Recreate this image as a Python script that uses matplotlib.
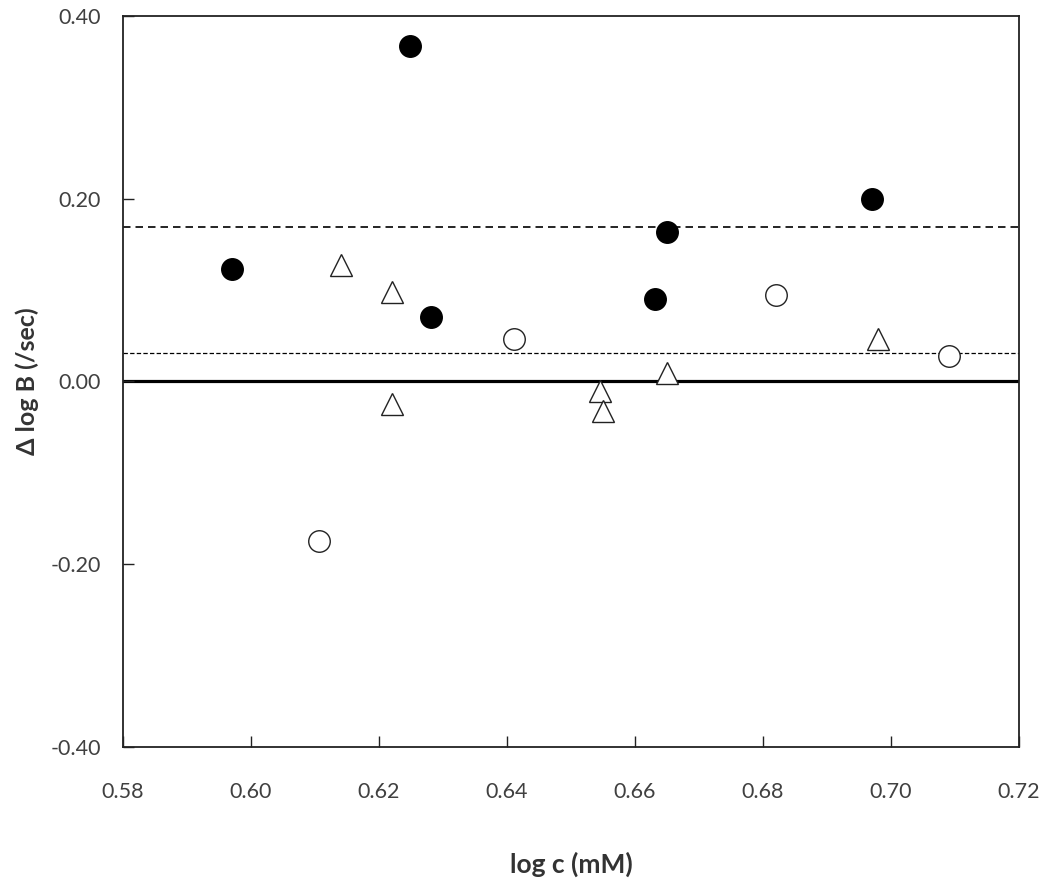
import matplotlib
matplotlib.use('Agg')
import matplotlib.pyplot as plt

plt.rcParams['font.family'] = ['Lato', 'DejaVu Sans']

# filled circles
filled_x = [0.597, 0.6248, 0.6281, 0.6631, 0.665, 0.697]
filled_y = [0.123, 0.367, 0.071, 0.090, 0.164, 0.200]

# open circles
open_x = [0.6106, 0.6411, 0.682, 0.7091]
open_y = [-0.175, 0.0465, 0.0947, 0.028]

# open triangles
tri_x = [0.614, 0.622, 0.622, 0.6545, 0.655, 0.665, 0.698]
tri_y = [0.128, 0.098, -0.025, -0.010, -0.032, 0.0096, 0.047]

# reference lines
upper_dash = 0.169
lower_dash = 0.0315

xticks = [0.58, 0.60, 0.62, 0.64, 0.66, 0.68, 0.70, 0.72]
yticks = [-0.40, -0.20, 0.00, 0.20, 0.40]

fig = plt.figure(figsize=(10.5, 8.88), dpi=100)
ax = fig.add_axes([0.1171, 0.1588, 0.8534, 0.8232])

ax.axhline(0, color='black', linewidth=2.3, zorder=1)
ax.axhline(upper_dash, color='black', linewidth=1.2, dashes=(4.5, 3), zorder=1)
ax.axhline(lower_dash, color='black', linewidth=0.9, dashes=(3.5, 1.8), zorder=1)

ms = 15.5
ax.plot(filled_x, filled_y, 'o', color='black', markersize=ms, zorder=3)
ax.plot(open_x, open_y, 'o', markerfacecolor='white', markeredgecolor='#222222',
        markeredgewidth=1.0, markersize=ms, zorder=3)
ax.plot(tri_x, tri_y, '^', markerfacecolor='white', markeredgecolor='#222222',
        markeredgewidth=1.0, markersize=ms, zorder=3)

ax.set_xlim(0.58, 0.72)
ax.set_ylim(-0.40, 0.40)
ax.set_xticks(xticks)
ax.set_yticks(yticks)
ax.set_xticklabels([f'{v:.2f}' for v in xticks])
ax.set_yticklabels([f'{v:.2f}' for v in yticks])

for s in ax.spines.values():
    s.set_linewidth(1.3)
    s.set_color('#222222')

ax.tick_params(axis='both', direction='in', length=8, width=1.0, color='#222222',
               labelsize=15.5, labelcolor='#404040')
ax.tick_params(axis='x', pad=25)
ax.tick_params(axis='y', pad=16)

ax.set_xlabel('log c (mM)', fontsize=19, fontweight='bold', color='#333333', labelpad=36)
ax.set_ylabel('Δ log B (/sec)', fontsize=18, fontweight='bold', color='#333333', labelpad=8)

fig.savefig('out.png', dpi=100)
